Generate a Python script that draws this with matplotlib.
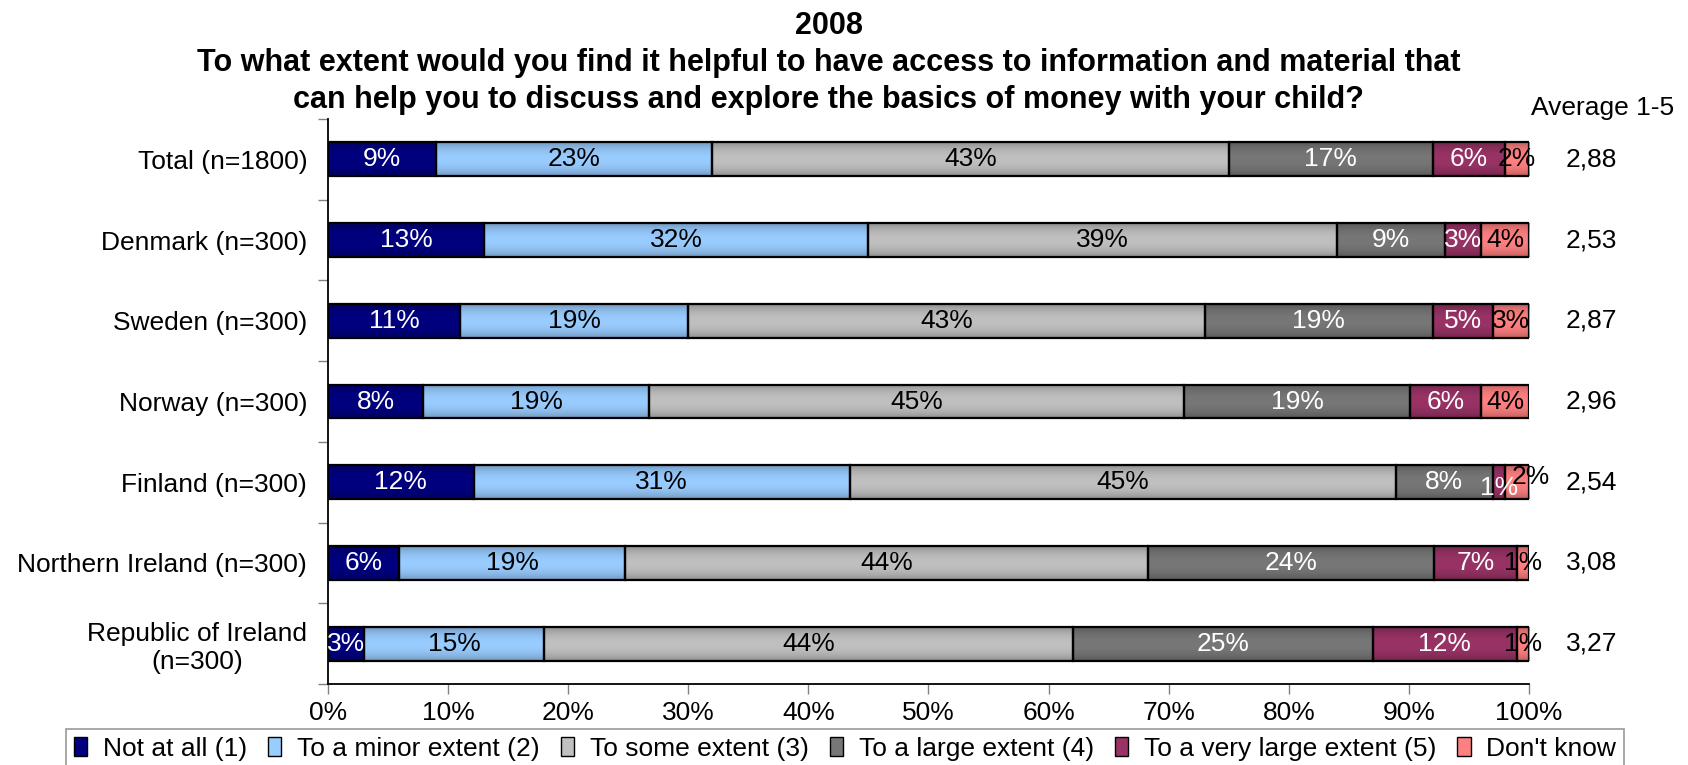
import numpy as np
import matplotlib.pyplot as plt
from matplotlib.colors import to_rgb
from matplotlib.transforms import blended_transform_factory

plt.rcParams['font.family'] = ['Liberation Sans', 'DejaVu Sans']

countries = ['Total (n=1800)', 'Denmark (n=300)', 'Sweden (n=300)', 'Norway (n=300)',
             'Finland (n=300)', 'Northern Ireland (n=300)', 'Republic of Ireland\n(n=300)']
answers = ['Not at all (1)', 'To a minor extent (2)', 'To some extent (3)',
           'To a large extent (4)', 'To a very large extent (5)', "Don't know"]

not_at_all = [9, 13, 11, 8, 12, 6, 3]
minor = [23, 32, 19, 19, 31, 19, 15]
some = [43, 39, 43, 45, 45, 44, 44]
large = [17, 9, 19, 19, 8, 24, 25]
very_large = [6, 3, 5, 6, 1, 7, 12]
dont_know = [2, 4, 3, 4, 2, 1, 1]
averages = ['2,88', '2,53', '2,87', '2,96', '2,54', '3,08', '3,27']

colors = ['#000080', '#99ccff', '#c0c0c0', '#777777', '#993366', '#ff8080']
text_colors = ['white', 'black', 'black', 'white', 'white', 'black']

vals = np.array([not_at_all, minor, some, large, very_large, dont_know], dtype=float)
shares = vals / vals.sum(axis=0) * 100   # 100% stacked

FS = 19
BAR_H = 0.42

fig = plt.figure(figsize=(16.88, 7.65), dpi=100)
ax = fig.add_axes([0.1943, 0.1059, 0.7115, 0.7385])

# vertical shading profile for the bars: darker at top and bottom edges
t = np.linspace(0, 1, 40)
shade = 0.70 + 0.30 * np.sin(np.pi * t) ** 0.6

y = np.arange(len(countries))
left = np.zeros(len(countries))
for i in range(len(answers)):
    rgb = np.array(to_rgb(colors[i]))
    grad = np.clip(shade[:, None] * rgb[None, :], 0, 1)[:, None, :]
    ax.barh(y, shares[i], left=left, height=BAR_H, color='none',
            edgecolor='black', linewidth=1.6, zorder=3)
    for j in range(len(countries)):
        x0 = left[j]
        ax.imshow(grad, extent=[x0, x0 + shares[i][j], j + BAR_H / 2, j - BAR_H / 2],
                  aspect='auto', interpolation='bilinear', zorder=2)
        cx = x0 + shares[i][j] / 2
        dx, dy = 0, 0
        # Finland's two smallest labels are nudged apart
        if j == 4 and i == 4:
            dy = 4
        if j == 4 and i == 5:
            dx, dy = 10, -4
        ax.annotate('%d%%' % vals[i][j], (cx, j), xytext=(dx, -dy),
                    textcoords='offset points', ha='center', va='center',
                    color=text_colors[i], fontsize=FS, zorder=4)
    # proxy patch for the legend
    ax.bar(0, 0, color=colors[i], edgecolor='black', linewidth=1, label=answers[i])
    left += shares[i]

ax.set_xlim(0, 100)
ax.set_ylim(6.5, -0.5)
ax.set_xticks(np.arange(0, 101, 10))
ax.set_xticklabels(['%d%%' % v for v in range(0, 101, 10)], fontsize=FS)
ax.set_yticks(np.arange(-0.5, 7, 1))
ax.set_yticklabels([])
ax.set_yticks(y, minor=True)
ax.set_yticklabels(countries, minor=True, fontsize=FS)
for lab in ax.get_yticklabels(minor=True):
    lab.set_multialignment('center')
ax.tick_params(axis='y', which='major', length=7, color='#808080', width=1)
ax.tick_params(axis='y', which='minor', length=0, pad=15)
ax.tick_params(axis='x', length=7, color='#808080', width=1, pad=5)
ax.spines['top'].set_visible(False)
ax.spines['right'].set_visible(False)
ax.spines['left'].set_linewidth(1.3)
ax.spines['bottom'].set_linewidth(1.3)

tr = blended_transform_factory(ax.transAxes, ax.transData)
for j, a in enumerate(averages):
    ax.text(1.052, j, a, transform=tr, ha='center', va='center', fontsize=FS)
ax.text(1.061, -0.64, 'Average 1-5', transform=tr, ha='center', va='center', fontsize=FS)

fig.text(0.491, 0.918, '2008\n'
         'To what extent would you find it helpful to have access to information and material that\n'
         'can help you to discuss and explore the basics of money with your child?',
         ha='center', va='center', fontsize=22, fontweight='bold', linespacing=1.3)

leg = fig.legend(loc='lower center', bbox_to_anchor=(0.5006, -0.022), ncol=6, fontsize=FS,
                 frameon=True, fancybox=False, edgecolor='#808080', handlelength=0.5,
                 handleheight=0.75, handletextpad=0.6, columnspacing=0.8, borderpad=0.3)
leg.get_frame().set_linewidth(1.2)

fig.savefig('out.png', dpi=100)
